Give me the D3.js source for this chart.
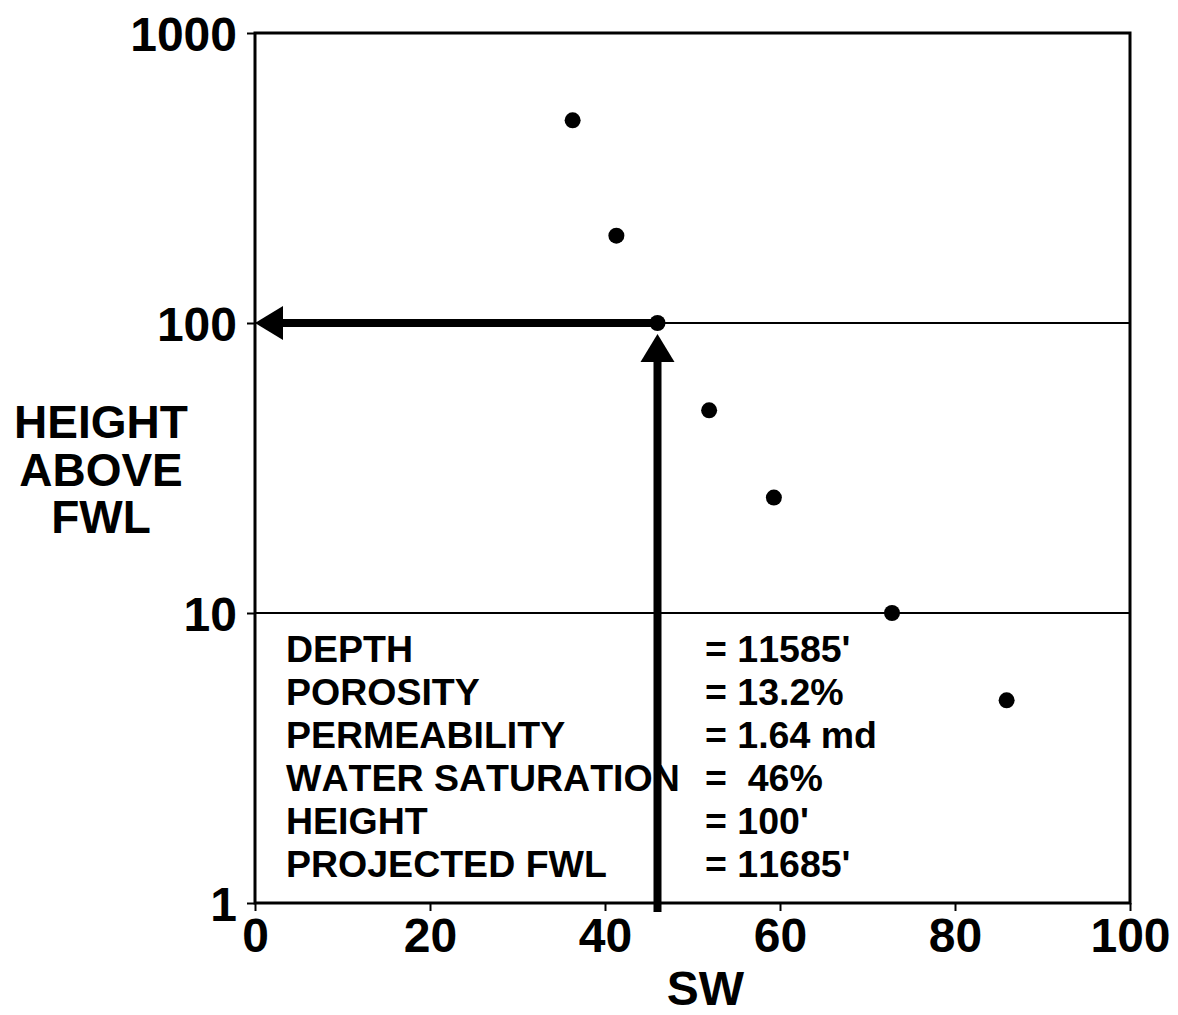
<!DOCTYPE html>
<html>
<head>
<meta charset="utf-8">
<script src="https://cdn.jsdelivr.net/npm/d3@7/dist/d3.min.js"></script>
<style>
  html, body { margin: 0; padding: 0; background: #fff; }
  svg { display: block; font-family: "Liberation Sans", Arial, Helvetica, sans-serif; font-weight: bold; font-kerning: none; }
</style>
</head>
<body>
<svg id="chart" width="1178" height="1015"></svg>
<script>
// Capillary-pressure points: water saturation (%) vs height above free water level (ft)
const sw = [36.3, 41.3, 46, 51.9, 59.3, 72.8, 85.9];
const heightAboveFwl = [500, 200, 100, 50, 25, 10, 5];

const xTicks = [0, 20, 40, 60, 80, 100];
const yTicks = [1, 10, 100, 1000];
const gridValues = [10, 100];

// Sample read-out used for the projection arrows
const pickSw = 46;
const pickHeight = 100;

const yTitleLines = ["HEIGHT", "ABOVE", "FWL"];
const infoLabels = ["DEPTH", "POROSITY", "PERMEABILITY", "WATER SATURATION", "HEIGHT", "PROJECTED FWL"];
const infoValues = ["= 11585'", "= 13.2%", "= 1.64 md", "=  46%", "= 100'", "= 11685'"];

const svg = d3.select("#chart");
const plotLeft = 255, plotRight = 1130, plotTop = 33, plotBottom = 903;

const x = d3.scaleLinear().domain([0, 100]).range([plotLeft, plotRight]);
const y = d3.scaleLog().domain([1, 1000]).range([plotBottom, plotTop]);

// Grid lines at 10 and 100
svg.append("g").selectAll("line").data(gridValues).join("line")
  .attr("x1", plotLeft).attr("x2", plotRight)
  .attr("y1", d => y(d)).attr("y2", d => y(d))
  .attr("stroke", "#000").attr("stroke-width", 1.8);

// Frame
svg.append("rect")
  .attr("x", plotLeft).attr("y", plotTop)
  .attr("width", plotRight - plotLeft).attr("height", plotBottom - plotTop)
  .attr("fill", "none").attr("stroke", "#000").attr("stroke-width", 3);

// Axes
const xAxis = svg.append("g")
  .attr("transform", `translate(0,${plotBottom})`)
  .call(d3.axisBottom(x).tickValues(xTicks).tickSize(8).tickSizeOuter(0).tickPadding(7).tickFormat(d3.format("d")));
const yAxis = svg.append("g")
  .attr("transform", `translate(${plotLeft},0)`)
  .call(d3.axisLeft(y).tickValues(yTicks).tickSize(8).tickSizeOuter(0).tickPadding(10).tickFormat(d3.format("d")));

[xAxis, yAxis].forEach(g => {
  g.select(".domain").remove();
  g.selectAll(".tick line").attr("stroke", "#000").attr("stroke-width", 2);
  g.selectAll(".tick text")
    .attr("fill", "#000")
    .style("font-family", "'Liberation Sans', Arial, sans-serif")
    .style("font-weight", "bold")
    .style("font-size", "48px");
});
xAxis.selectAll(".tick text").attr("dy", "0.71em");
yAxis.selectAll(".tick text").attr("dy", "0.36em");

// Axis titles
svg.append("text")
  .attr("x", (plotLeft + plotRight) / 2 + 13).attr("y", 1005)
  .attr("text-anchor", "middle").attr("font-size", 48).text("SW");

svg.append("g").selectAll("text").data(yTitleLines).join("text")
  .attr("x", 101).attr("y", (d, i) => 438 + i * 47.5)
  .attr("text-anchor", "middle").attr("font-size", 46)
  .text(d => d);

// Info block
const info = svg.append("g").attr("font-size", 37.5);
info.selectAll("text.lab").data(infoLabels).join("text")
  .attr("class", "lab")
  .attr("x", 286).attr("y", (d, i) => 662 + i * 43)
  .text(d => d);
info.selectAll("text.val").data(infoValues).join("text")
  .attr("class", "val")
  .attr("x", 705).attr("y", (d, i) => 662 + i * 43)
  .attr("xml:space", "preserve").style("white-space", "pre")
  .text(d => d);

// Projection arrows
const arrows = svg.append("g");
const px = x(pickSw), py = y(pickHeight);
const headLen = 28, headHalf = 17, shaft = 8;

// Horizontal arrow toward the height axis
arrows.append("line")
  .attr("x1", px).attr("x2", x(0) + headLen - 2)
  .attr("y1", py).attr("y2", py)
  .attr("stroke", "#000").attr("stroke-width", shaft);
arrows.append("path")
  .attr("d", `M${x(0)},${py} L${x(0) + headLen},${py - headHalf} L${x(0) + headLen},${py + headHalf} Z`)
  .attr("fill", "#000");

// Vertical arrow up from the SW axis
const tipY = py + 11;
arrows.append("line")
  .attr("x1", px).attr("x2", px)
  .attr("y1", y(1) + 9).attr("y2", tipY + headLen - 2)
  .attr("stroke", "#000").attr("stroke-width", shaft);
arrows.append("path")
  .attr("d", `M${px},${tipY} L${px - headHalf},${tipY + headLen} L${px + headHalf},${tipY + headLen} Z`)
  .attr("fill", "#000");

// Data points
svg.append("g").selectAll("circle").data(sw.map((s, i) => [s, heightAboveFwl[i]])).join("circle")
  .attr("cx", d => x(d[0])).attr("cy", d => y(d[1]))
  .attr("r", 8).attr("fill", "#000");
</script>
</body>
</html>
